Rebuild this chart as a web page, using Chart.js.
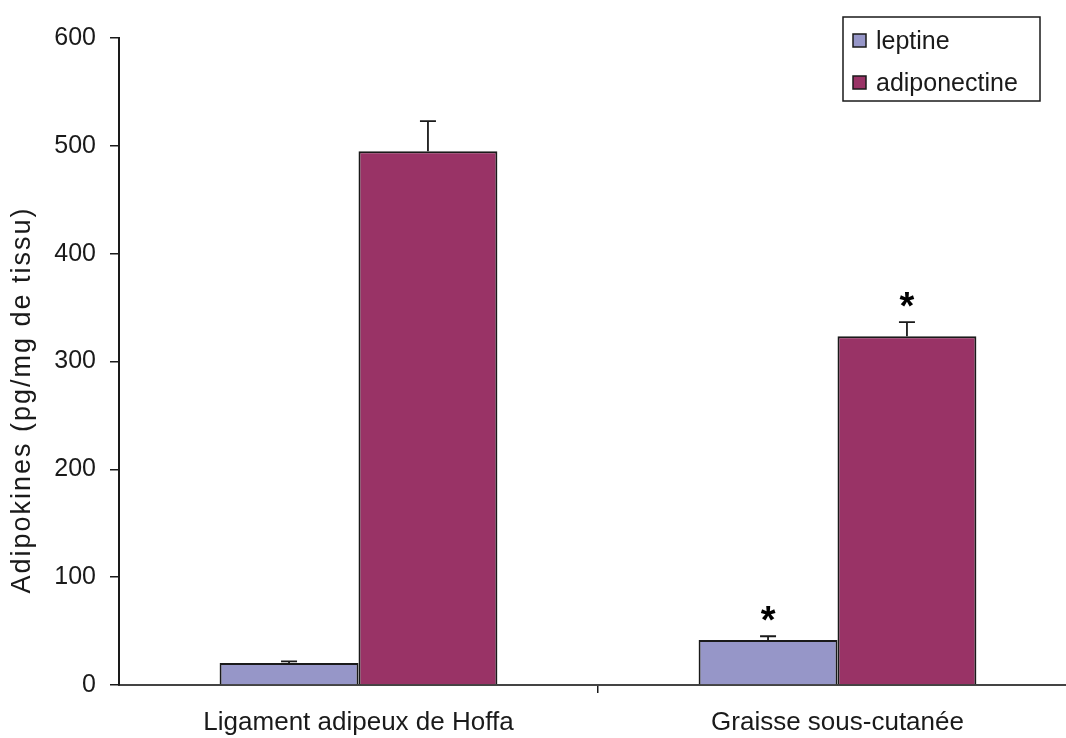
<!DOCTYPE html>
<html lang="fr">
<head>
    <meta charset="UTF-8">
    <title>Adipokines</title>
    <script src="https://cdn.jsdelivr.net/npm/chart.js"></script>
    <style>
        html, body { margin: 0; padding: 0; background: #fff; overflow: hidden; }
        #chart { display: block; }
    </style>
</head>
<body>
    <canvas id="chart" width="1080" height="738"></canvas>

    <script>
        // chart data
        const categories = ['Ligament adipeux de Hoffa', 'Graisse sous-cutanée'];
        const seriesNames = ['leptine', 'adiponectine'];
        const leptine = [20.4, 41.7];
        const adiponectine = [495, 323.5];
        const leptineErr = [1.5, 3.5];
        const adiponectineErr = [28, 13];
        const leptineSignif = ['', '*'];
        const adiponectineSignif = ['', '*'];
        const yTicks = [0, 100, 200, 300, 400, 500, 600];
        const yTitle = 'Adipokines (pg/mg de tissu)';

        const errors = [leptineErr, adiponectineErr];
        const signif = [leptineSignif, adiponectineSignif];
        const ink = '#1a1a1a';
        const font = 'Liberation Sans, Arial, sans-serif';

        // error bars + asterisks above each bar
        const errorBars = {
            id: 'errorBars',
            afterDatasetsDraw(chart) {
                const ctx = chart.ctx;
                const y = chart.scales.y;
                ctx.save();
                chart.data.datasets.forEach((ds, di) => {
                    const meta = chart.getDatasetMeta(di);
                    meta.data.forEach((bar, i) => {
                        const top = y.getPixelForValue(ds.data[i]);
                        const end = y.getPixelForValue(ds.data[i] + errors[di][i]);
                        ctx.strokeStyle = ink;
                        ctx.lineWidth = 1.8;
                        ctx.beginPath();
                        ctx.moveTo(bar.x, top);
                        ctx.lineTo(bar.x, end);
                        ctx.moveTo(bar.x - 8, end);
                        ctx.lineTo(bar.x + 8, end);
                        ctx.stroke();
                        if (signif[di][i]) {
                            ctx.fillStyle = '#000';
                            ctx.font = 'bold 38px ' + font;
                            ctx.textAlign = 'center';
                            ctx.textBaseline = 'alphabetic';
                            ctx.fillText(signif[di][i], bar.x, end - 3);
                        }
                    });
                });
                ctx.restore();
            }
        };

        // boxed legend in the top right, and the y axis title
        const decorations = {
            id: 'decorations',
            afterDraw(chart) {
                const ctx = chart.ctx;
                ctx.save();
                ctx.strokeStyle = ink;
                ctx.lineWidth = 1.5;
                ctx.strokeRect(843, 17, 197, 84);
                chart.data.datasets.forEach((ds, i) => {
                    const cy = 41 + i * 42;
                    ctx.fillStyle = ds.backgroundColor;
                    ctx.fillRect(853, cy - 7, 13, 13);
                    ctx.strokeRect(853, cy - 7, 13, 13);
                    ctx.fillStyle = ink;
                    ctx.font = '25px ' + font;
                    ctx.textAlign = 'left';
                    ctx.textBaseline = 'middle';
                    ctx.fillText(ds.label, 876, cy + 1);
                });

                ctx.translate(23, 400);
                ctx.rotate(-Math.PI / 2);
                ctx.fillStyle = ink;
                ctx.font = '27px ' + font;
                ctx.letterSpacing = '2px';
                ctx.textAlign = 'center';
                ctx.textBaseline = 'middle';
                ctx.fillText(yTitle, 0, 0);
                ctx.restore();
            }
        };

        new Chart(document.getElementById('chart'), {
            type: 'bar',
            data: {
                labels: categories,
                datasets: [{
                    label: seriesNames[0],
                    data: leptine,
                    backgroundColor: '#9696C8',
                    borderColor: ink,
                    borderWidth: 2,
                    barPercentage: 1,
                    categoryPercentage: 0.58
                }, {
                    label: seriesNames[1],
                    data: adiponectine,
                    backgroundColor: '#993366',
                    borderColor: ink,
                    borderWidth: 2,
                    barPercentage: 1,
                    categoryPercentage: 0.58
                }]
            },
            options: {
                responsive: false,
                devicePixelRatio: 1,
                animation: false,
                layout: { padding: { top: 38, right: 3, left: 0, bottom: 0 } },
                plugins: {
                    legend: { display: false },
                    tooltip: { enabled: false }
                },
                scales: {
                    x: {
                        afterFit(scale) { scale.height = 53; },
                        grid: {
                            offset: true,
                            drawOnChartArea: false,
                            tickLength: 8,
                            lineWidth: 1.5,
                            color: c => c.index === 0 ? 'rgba(0,0,0,0)' : ink
                        },
                        border: { display: true, color: '#444', width: 2 },
                        ticks: {
                            color: ink,
                            padding: 14,
                            font: { family: font, size: 26 }
                        }
                    },
                    y: {
                        min: 0,
                        max: 600,
                        afterFit(scale) { scale.width = 119; },
                        afterBuildTicks(scale) { scale.ticks = yTicks.map(v => ({ value: v })); },
                        grid: {
                            drawOnChartArea: false,
                            tickLength: 9,
                            lineWidth: 1.5,
                            color: ink
                        },
                        border: { display: true, color: ink, width: 2 },
                        ticks: {
                            color: ink,
                            padding: 14,
                            font: { family: font, size: 25 }
                        }
                    }
                }
            },
            plugins: [errorBars, decorations]
        });
    </script>
</body>
</html>
